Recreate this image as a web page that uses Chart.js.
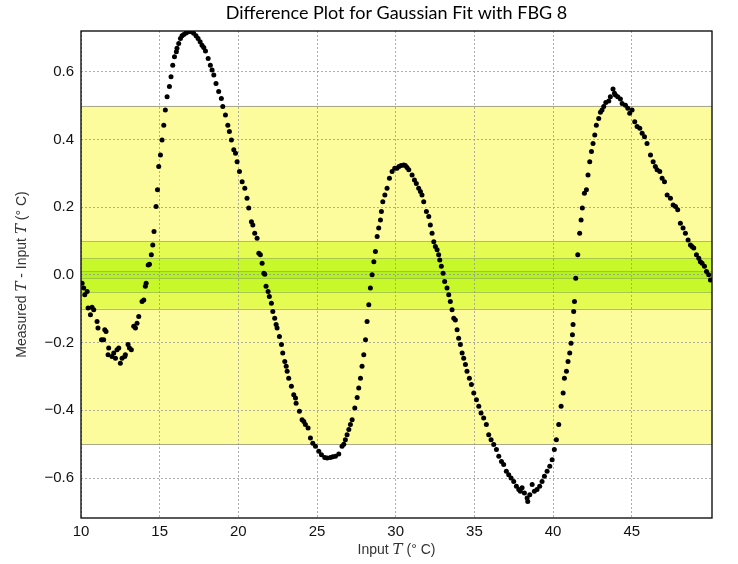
<!DOCTYPE html>
<html lang="en">
<head>
<meta charset="UTF-8">
<title>Difference Plot for Gaussian Fit with FBG 8</title>
<script src="https://cdn.jsdelivr.net/npm/chart.js@4.4.1/dist/chart.umd.min.js"></script>
<style>
  body { margin: 0; background: #fff; }
  canvas { display: block; }
</style>
</head>
<body>
<canvas id="diffChart" width="738" height="564"></canvas>
<script>
// Input temperature (deg C)
const inputTemp = [
  10.07, 10.17, 10.24, 10.39, 10.45, 10.60, 10.70, 10.81, 11.02, 11.08,
  11.30, 11.44, 11.51, 11.59, 11.72, 11.76, 11.97, 12.08, 12.19, 12.29,
  12.40, 12.50, 12.61, 12.78, 12.82, 12.99, 13.08, 13.20, 13.35, 13.46,
  13.56, 13.67, 13.88, 13.99, 14.09, 14.14, 14.27, 14.35, 14.47, 14.56,
  14.64, 14.77, 14.86, 14.94, 15.05, 15.15, 15.26, 15.36, 15.47, 15.62,
  15.72, 15.83, 15.94, 16.06, 16.10, 16.21, 16.32, 16.42, 16.53, 16.68,
  16.85, 17.02, 17.16, 17.31, 17.44, 17.57, 17.69, 17.80, 17.91, 18.08,
  18.22, 18.33, 18.44, 18.58, 18.75, 18.92, 19.01, 19.18, 19.33, 19.43,
  19.56, 19.71, 19.82, 19.92, 20.07, 20.24, 20.41, 20.55, 20.66, 20.83,
  20.92, 21.04, 21.19, 21.30, 21.40, 21.51, 21.62, 21.68, 21.76, 21.89,
  21.97, 22.10, 22.19, 22.31, 22.40, 22.46, 22.61, 22.74, 22.82, 22.95,
  23.04, 23.10, 23.20, 23.37, 23.52, 23.63, 23.67, 23.88, 24.05, 24.16,
  24.26, 24.43, 24.58, 24.73, 24.90, 25.11, 25.28, 25.49, 25.64, 25.85,
  26.00, 26.17, 26.38, 26.59, 26.70, 26.80, 26.91, 27.02, 27.12, 27.23,
  27.40, 27.55, 27.65, 27.76, 27.86, 27.97, 28.08, 28.18, 28.29, 28.39,
  28.50, 28.61, 28.71, 28.82, 28.92, 29.03, 29.09, 29.18, 29.31, 29.45,
  29.60, 29.77, 29.94, 30.08, 30.21, 30.34, 30.51, 30.61, 30.72, 30.83,
  31.04, 31.19, 31.31, 31.46, 31.57, 31.67, 31.78, 31.95, 32.10, 32.20,
  32.31, 32.42, 32.52, 32.63, 32.73, 32.80, 32.90, 33.01, 33.11, 33.26,
  33.37, 33.47, 33.58, 33.69, 33.79, 33.90, 34.00, 34.11, 34.22, 34.32,
  34.43, 34.53, 34.68, 34.81, 34.96, 35.13, 35.28, 35.42, 35.59, 35.76,
  35.91, 36.06, 36.23, 36.40, 36.55, 36.72, 36.86, 37.03, 37.18, 37.33,
  37.50, 37.67, 37.82, 37.92, 38.03, 38.18, 38.35, 38.39, 38.52, 38.67,
  38.81, 38.98, 39.15, 39.30, 39.45, 39.62, 39.79, 39.94, 40.08, 40.21,
  40.36, 40.51, 40.64, 40.72, 40.85, 40.95, 41.06, 41.14, 41.23, 41.27,
  41.31, 41.36, 41.44, 41.57, 41.69, 41.78, 41.86, 41.99, 42.12, 42.22,
  42.33, 42.44, 42.54, 42.65, 42.75, 42.90, 43.01, 43.11, 43.22, 43.35,
  43.54, 43.64, 43.81, 43.90, 43.96, 44.11, 44.28, 44.39, 44.60, 44.75,
  44.87, 45.02, 45.19, 45.34, 45.51, 45.66, 45.81, 45.97, 46.19, 46.36,
  46.50, 46.61, 46.78, 46.93, 47.08, 47.25, 47.46, 47.63, 47.78, 47.92,
  48.09, 48.26, 48.41, 48.58, 48.73, 48.83, 48.94, 49.11, 49.26, 49.36,
  49.47, 49.62, 49.75, 49.89, 50.00
];

// Measured T - Input T (deg C)
const tempDiff = [
  -0.025, -0.039, -0.059, -0.049, -0.098, -0.118, -0.096, -0.103, -0.138, -0.157,
  -0.192, -0.192, -0.162, -0.167, -0.236, -0.216, -0.241, -0.231, -0.246, -0.221,
  -0.216, -0.261, -0.246, -0.241, -0.236, -0.206, -0.216, -0.221, -0.152, -0.157,
  -0.143, -0.123, -0.079, -0.074, -0.034, -0.025, 0.029, 0.031, 0.059, 0.088,
  0.128, 0.202, 0.251, 0.320, 0.354, 0.398, 0.442, 0.487, 0.526, 0.556,
  0.585, 0.619, 0.644, 0.659, 0.669, 0.683, 0.698, 0.706, 0.710, 0.714,
  0.718, 0.718, 0.713, 0.706, 0.698, 0.688, 0.678, 0.671, 0.661, 0.639,
  0.619, 0.605, 0.590, 0.565, 0.541, 0.521, 0.497, 0.472, 0.442, 0.423,
  0.398, 0.369, 0.359, 0.334, 0.305, 0.275, 0.256, 0.226, 0.197, 0.157,
  0.147, 0.123, 0.108, 0.064, 0.059, 0.034, 0.005, 0.002, -0.034, -0.049,
  -0.064, -0.084, -0.108, -0.128, -0.147, -0.157, -0.182, -0.206, -0.231, -0.256,
  -0.270, -0.285, -0.305, -0.329, -0.354, -0.364, -0.379, -0.403, -0.428, -0.433,
  -0.442, -0.452, -0.482, -0.497, -0.506, -0.521, -0.531, -0.539, -0.541, -0.539,
  -0.537, -0.536, -0.529, -0.506, -0.500, -0.487, -0.472, -0.457, -0.442, -0.428,
  -0.393, -0.362, -0.334, -0.305, -0.270, -0.236, -0.192, -0.138, -0.088, -0.039,
  0.000, 0.039, 0.069, 0.113, 0.138, 0.162, 0.187, 0.216, 0.236, 0.256,
  0.285, 0.305, 0.315, 0.315, 0.320, 0.323, 0.324, 0.323, 0.317, 0.310,
  0.295, 0.280, 0.270, 0.256, 0.246, 0.236, 0.216, 0.187, 0.172, 0.147,
  0.123, 0.098, 0.084, 0.074, 0.059, 0.044, 0.025, 0.005, -0.020, -0.039,
  -0.059, -0.079, -0.103, -0.128, -0.133, -0.162, -0.187, -0.206, -0.231, -0.246,
  -0.265, -0.285, -0.305, -0.324, -0.349, -0.369, -0.388, -0.408, -0.423, -0.442,
  -0.472, -0.487, -0.501, -0.516, -0.536, -0.551, -0.560, -0.580, -0.590, -0.600,
  -0.610, -0.624, -0.634, -0.639, -0.629, -0.644, -0.659, -0.669, -0.649, -0.619,
  -0.639, -0.634, -0.624, -0.610, -0.595, -0.580, -0.565, -0.546, -0.516, -0.487,
  -0.442, -0.388, -0.349, -0.305, -0.285, -0.256, -0.231, -0.202, -0.177, -0.147,
  -0.108, -0.079, -0.010, 0.059, 0.123, 0.162, 0.197, 0.241, 0.251, 0.295,
  0.334, 0.364, 0.388, 0.413, 0.442, 0.462, 0.480, 0.487, 0.497, 0.509,
  0.513, 0.526, 0.549, 0.536, 0.531, 0.526, 0.519, 0.506, 0.501, 0.492,
  0.477, 0.487, 0.452, 0.438, 0.433, 0.418, 0.408, 0.388, 0.354, 0.334,
  0.320, 0.310, 0.305, 0.285, 0.275, 0.236, 0.226, 0.206, 0.202, 0.192,
  0.152, 0.138, 0.123, 0.103, 0.088, 0.084, 0.079, 0.059, 0.049, 0.039,
  0.034, 0.025, 0.010, 0.000, -0.015
];

const xTicks = [10, 15, 20, 25, 30, 35, 40, 45];
const yTicks = [-0.6, -0.4, -0.2, 0, 0.2, 0.4, 0.6];

// tolerance bands (+/- limit), widest first
const bandLimits = [0.5, 0.1, 0.05, 0.01];

const bandFill = ['#fdfc9c', '#e4fb52', '#c6f82a', '#b4f21e'];
const bandEdge = ['#a8a88a', '#b5b86a', '#a9c84a', '#9cc83a'];

const SANS = '"Liberation Sans", Arial, sans-serif';
const SERIF_IT = 'italic 15px "DejaVu Serif", "Liberation Serif", serif';

// draws a run of differently styled text pieces centred on (cx, cy)
function drawRich(ctx, parts, cx, cy) {
  let total = 0;
  parts.forEach(p => {
    ctx.font = p.font;
    p.w = ctx.measureText(p.text).width;
    total += p.w;
  });
  let x = cx - total / 2;
  ctx.textAlign = 'left';
  ctx.textBaseline = 'middle';
  parts.forEach(p => {
    ctx.font = p.font;
    ctx.fillText(p.text, x, cy);
    x += p.w;
  });
}

const bandsPlugin = {
  id: 'bands',
  beforeDraw(chart) {
    const { ctx, chartArea: a, scales: { y } } = chart;
    ctx.save();
    bandLimits.forEach((lim, i) => {
      const top = y.getPixelForValue(lim);
      const bot = y.getPixelForValue(-lim);
      ctx.fillStyle = bandFill[i];
      ctx.fillRect(a.left, top, a.right - a.left, bot - top);
      ctx.strokeStyle = bandEdge[i];
      ctx.lineWidth = 1;
      ctx.beginPath();
      ctx.moveTo(a.left, Math.round(top) + 0.5);
      ctx.lineTo(a.right, Math.round(top) + 0.5);
      ctx.moveTo(a.left, Math.round(bot) + 0.5);
      ctx.lineTo(a.right, Math.round(bot) + 0.5);
      ctx.stroke();
    });
    ctx.restore();
  }
};

const framePlugin = {
  id: 'frame',
  afterDraw(chart) {
    const { ctx, chartArea: a } = chart;
    ctx.save();
    ctx.strokeStyle = '#000';
    ctx.lineWidth = 1.3;
    ctx.strokeRect(a.left, a.top, a.right - a.left, a.bottom - a.top);

    // title
    ctx.fillStyle = '#000';
    ctx.font = '18px Lato, ' + SANS;
    ctx.textAlign = 'center';
    ctx.textBaseline = 'middle';
    const midX = (a.left + a.right) / 2;
    ctx.fillText('Difference Plot for Gaussian Fit with FBG 8', midX, 13);

    // axis titles
    const sans = '14px ' + SANS;
    ctx.fillStyle = '#333';
    drawRich(ctx, [
      { text: 'Input ', font: sans },
      { text: 'T', font: SERIF_IT },
      { text: ' (\u00B0 C)', font: sans }
    ], midX, 550);

    ctx.translate(22, (a.top + a.bottom) / 2);
    ctx.rotate(-Math.PI / 2);
    drawRich(ctx, [
      { text: 'Measured ', font: sans },
      { text: 'T', font: SERIF_IT },
      { text: ' - Input ', font: sans },
      { text: 'T', font: SERIF_IT },
      { text: ' (\u00B0 C)', font: sans }
    ], 0, 0);
    ctx.restore();
  }
};

const points = inputTemp.map((t, i) => ({ x: t, y: tempDiff[i] }));

new Chart(document.getElementById('diffChart'), {
  type: 'scatter',
  data: {
    datasets: [{
      data: points,
      backgroundColor: '#000',
      borderWidth: 0,
      pointRadius: 2.5,
      pointHoverRadius: 2.5
    }]
  },
  options: {
    responsive: false,
    animation: false,
    layout: { padding: { top: 31, right: 26, left: 0, bottom: 0 } },
    plugins: {
      legend: { display: false },
      title: { display: false },
      tooltip: { enabled: false }
    },
    scales: {
      x: {
        type: 'linear',
        min: 10,
        max: 50.1,
        afterBuildTicks: s => { s.ticks = xTicks.map(v => ({ value: v })); },
        afterFit: s => { s.height = 46; },
        ticks: {
          padding: 5,
          color: '#111',
          font: { family: SANS, size: 15 },
          callback: v => String(v)
        },
        grid: { color: '#999', lineWidth: 0.8, drawTicks: false },
        border: { display: false, dash: [2, 2] }
      },
      y: {
        type: 'linear',
        min: -0.718,
        max: 0.72,
        afterBuildTicks: s => { s.ticks = yTicks.map(v => ({ value: v })); },
        afterFit: s => { s.width = 81; },
        ticks: {
          padding: 7,
          color: '#111',
          font: { family: SANS, size: 15 },
          callback: v => v.toFixed(1).replace('-', '\u2212')
        },
        grid: { color: '#999', lineWidth: 0.8, drawTicks: false },
        border: { display: false, dash: [2, 2] }
      }
    }
  },
  plugins: [bandsPlugin, framePlugin]
});
</script>
</body>
</html>
